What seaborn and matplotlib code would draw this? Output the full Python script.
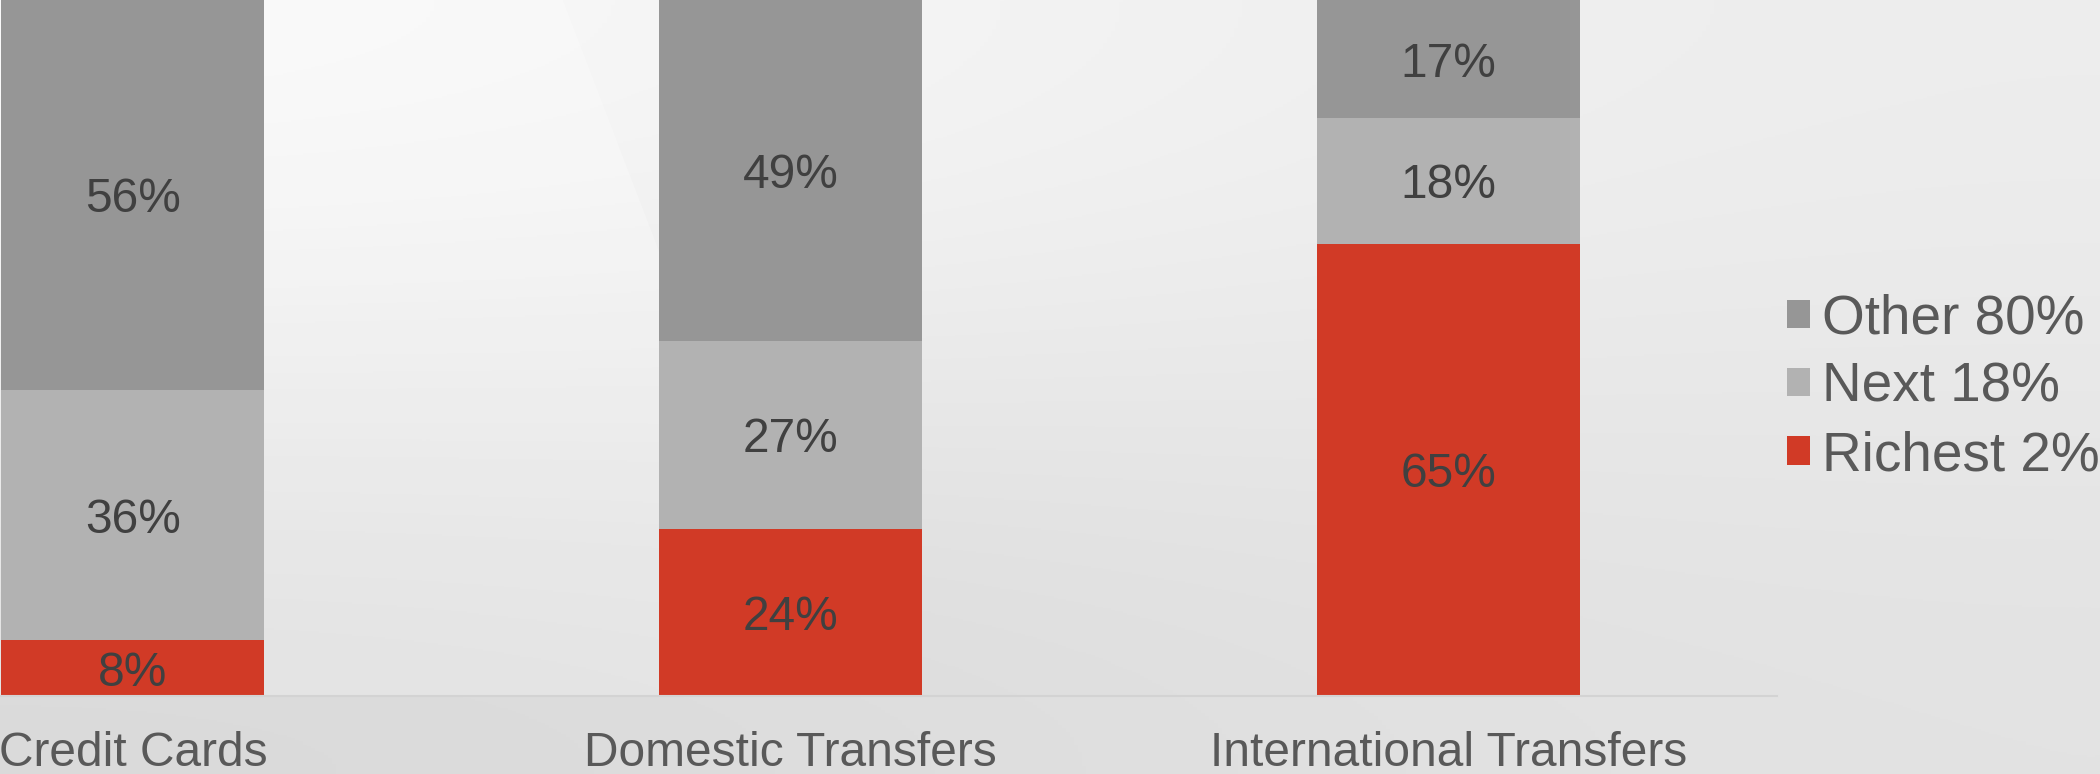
"""
plot.py
Stacked share-of-usage bars by wealth group.
"""
import numpy as np
import pandas as pd
import matplotlib
matplotlib.use('Agg')
import matplotlib.pyplot as plt
from matplotlib.patches import Patch, Polygon
import seaborn as sns

# Data
categories = ['Credit Cards', 'Domestic Transfers', 'International Transfers']
richest = [8, 24, 65]
next_18 = [36, 27, 18]
other = [56, 49, 17]
series_names = ['Richest 2%', 'Next 18%', 'Other 80%']

colors = {'Richest 2%': '#d13a26', 'Next 18%': '#b2b2b2', 'Other 80%': '#969696'}

sns.set_theme(style='white')
plt.rcParams['font.family'] = ['Liberation Sans', 'DejaVu Sans']

fig = plt.figure(figsize=(21, 7.74), dpi=100)

# Background gradient (light at top-left, darker toward the bottom)
bg = fig.add_axes([0, 0, 1, 1], zorder=0)
corners = np.array([[[0.98, 0.98, 0.98], [0.93, 0.93, 0.93]],
                    [[0.85, 0.85, 0.85], [0.89, 0.89, 0.89]]])
bg.imshow(corners, extent=[0, 1, 0, 1], aspect='auto', interpolation='bicubic')
bg.add_patch(Polygon([[0, 1], [0.268, 1], [0.395, 0.1], [0, 0.1]],
                     closed=True, facecolor='white', alpha=0.25, edgecolor='none'))
bg.set_xlim(0, 1)
bg.set_ylim(0, 1)
bg.axis('off')

# Main axes: left edge sits off-canvas so the first bar is cut like the reference
ax = fig.add_axes([-0.0933, 0.1008, 0.9395, 0.8992], zorder=1)
ax.set_facecolor('none')

df = pd.DataFrame({'category': categories, 'Richest 2%': richest,
                   'Next 18%': next_18, 'Other 80%': other})
df['cum_richest'] = df['Richest 2%']
df['cum_next'] = df['cum_richest'] + df['Next 18%']
df['cum_other'] = df['cum_next'] + df['Other 80%']

# Draw tallest cumulative layer first so the lower segments sit on top
for col, name in [('cum_other', 'Other 80%'), ('cum_next', 'Next 18%'), ('cum_richest', 'Richest 2%')]:
    sns.barplot(data=df, x='category', y=col, color=colors[name], width=0.4,
                saturation=1, ax=ax, linewidth=0, order=categories)

# Segment labels
for i, row in df.iterrows():
    bottoms = [0, row['cum_richest'], row['cum_next']]
    vals = [row['Richest 2%'], row['Next 18%'], row['Other 80%']]
    for b, v in zip(bottoms, vals):
        ax.text(i, b + v / 2, f'{v}%', ha='center', va='center_baseline',
                fontsize=34.5, color='#404040')

ax.set_xlim(-0.5, 2.5)
ax.set_ylim(0, 100)
ax.set_xlabel('')
ax.set_ylabel('')
ax.set_yticks([])
for side in ['top', 'right', 'left']:
    ax.spines[side].set_visible(False)
ax.spines['bottom'].set_color('#d3d3d3')
ax.spines['bottom'].set_linewidth(1.5)
ax.set_xticks(range(len(categories)))
ax.set_xticklabels(categories, fontsize=34.5, color='#595959')
ax.tick_params(axis='x', which='major', length=0, pad=25)
ax.set_xticks([0.5, 1.5, 2.5], minor=True)
ax.tick_params(axis='x', which='minor', direction='in', length=13, width=1.5, color='#c8c8c8')

# Legend (top to bottom: Other, Next, Richest)
handles = [Patch(facecolor=colors[n], edgecolor='none') for n in reversed(series_names)]
fig.legend(handles, list(reversed(series_names)), loc='center left',
           bbox_to_anchor=(0.851, 0.499), frameon=False, fontsize=39.5,
           handlelength=0.42, handleheight=0.42, handletextpad=0.22,
           labelspacing=0.3, labelcolor='#595959', borderpad=0, borderaxespad=0)

fig.savefig('out.png', dpi=100)
